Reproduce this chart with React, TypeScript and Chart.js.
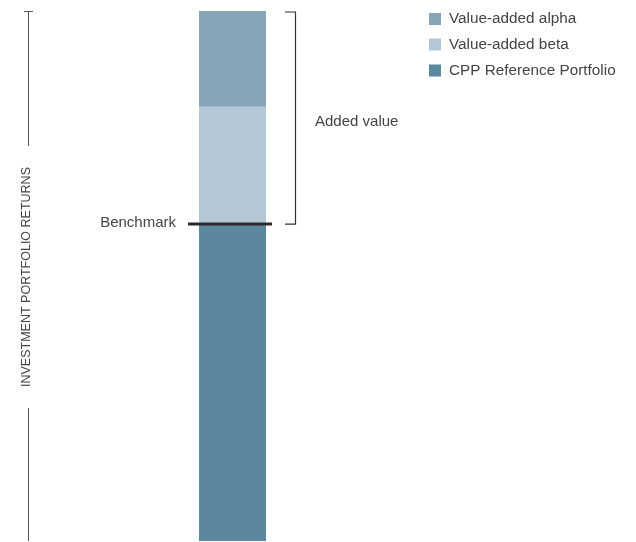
import React, { useEffect, useRef } from "react";
import { Chart, registerables } from "chart.js";

Chart.register(...registerables);

const categories = ["Returns"];
const seriesNames = ["CPP Reference Portfolio", "Value-added beta", "Value-added alpha"];
const referenceValues = [59.8];
const betaValues = [22.1];
const alphaValues = [18.1];
const seriesColors = ["#5b879f", "#b3c7d7", "#86a5b9"];
const axisTitle = "INVESTMENT PORTFOLIO RETURNS";
const benchmarkLabel = "Benchmark";
const addedValueLabel = "Added value";

const FONT = "'Liberation Sans', Arial, sans-serif";
const TEXT = "#444444";

const overlay = {
  id: "overlay",
  afterDraw(chart: any) {
    const ctx = chart.ctx;
    const y = chart.scales.y;
    const area = chart.chartArea;
    const bench = referenceValues[0];
    const total = referenceValues[0] + betaValues[0] + alphaValues[0];
    const yBench = y.getPixelForValue(bench);
    const yTop = y.getPixelForValue(total);
    ctx.save();

    // left axis
    ctx.strokeStyle = "#555";
    ctx.lineWidth = 1;
    ctx.beginPath();
    ctx.moveTo(28.5, area.top);
    ctx.lineTo(28.5, 146);
    ctx.moveTo(28.5, 408);
    ctx.lineTo(28.5, area.bottom);
    ctx.moveTo(24, area.top + 0.5);
    ctx.lineTo(33, area.top + 0.5);
    ctx.stroke();

    ctx.fillStyle = TEXT;
    ctx.font = `12.5px ${FONT}`;
    ctx.textAlign = "center";
    ctx.textBaseline = "middle";
    ctx.translate(27, 277);
    ctx.rotate(-Math.PI / 2);
    ctx.fillText(axisTitle, 0, 0);
    ctx.setTransform(1, 0, 0, 1, 0, 0);

    // benchmark line
    ctx.strokeStyle = "#2a2a2a";
    ctx.lineWidth = 3;
    ctx.beginPath();
    ctx.moveTo(188, yBench);
    ctx.lineTo(272, yBench);
    ctx.stroke();

    ctx.font = `15px ${FONT}`;
    ctx.textAlign = "right";
    ctx.fillStyle = TEXT;
    ctx.fillText(benchmarkLabel, 176, yBench - 1);

    // bracket
    ctx.strokeStyle = "#333";
    ctx.lineWidth = 1.2;
    ctx.beginPath();
    ctx.moveTo(285, yTop + 1);
    ctx.lineTo(295.5, yTop + 1);
    ctx.lineTo(295.5, yBench);
    ctx.lineTo(285, yBench);
    ctx.stroke();

    ctx.textAlign = "left";
    ctx.fillText(addedValueLabel, 315, 122);

    // legend
    const order = [2, 1, 0];
    const rowsY = [19, 44.5, 70.5];
    order.forEach((di, i) => {
      const ds = chart.data.datasets[di];
      ctx.fillStyle = ds.backgroundColor;
      ctx.fillRect(429, rowsY[i] - 6, 12, 12);
      ctx.fillStyle = TEXT;
      ctx.font = `15.3px ${FONT}`;
      ctx.textAlign = "left";
      ctx.textBaseline = "middle";
      ctx.fillText(ds.label, 449, rowsY[i]);
    });
    ctx.restore();
  },
};

export default function App() {
  const ref = useRef<HTMLCanvasElement>(null);
  useEffect(() => {
    const chart = new Chart(ref.current!, {
      type: "bar",
      data: {
        labels: categories,
        datasets: [
          { label: seriesNames[0], data: referenceValues, backgroundColor: seriesColors[0] },
          { label: seriesNames[1], data: betaValues, backgroundColor: seriesColors[1] },
          { label: seriesNames[2], data: alphaValues, backgroundColor: seriesColors[2] },
        ],
      },
      options: {
        animation: false,
        responsive: false,
        maintainAspectRatio: false,
        layout: { padding: { left: 199, right: 370, top: 11, bottom: 1 } },
        plugins: { legend: { display: false }, tooltip: { enabled: false } },
        datasets: { bar: { barPercentage: 1, categoryPercentage: 1, borderWidth: 0 } },
        scales: {
          x: { stacked: true, display: false },
          y: { stacked: true, display: false, min: 0, max: 100 },
        },
      },
      plugins: [overlay],
    });
    return () => chart.destroy();
  }, []);
  return (
    <div style={{ position: "absolute", left: 0, top: 0, width: 636, height: 542, background: "#fff" }}>
      <canvas ref={ref} width={636} height={542} style={{ display: "block" }} />
    </div>
  );
}
